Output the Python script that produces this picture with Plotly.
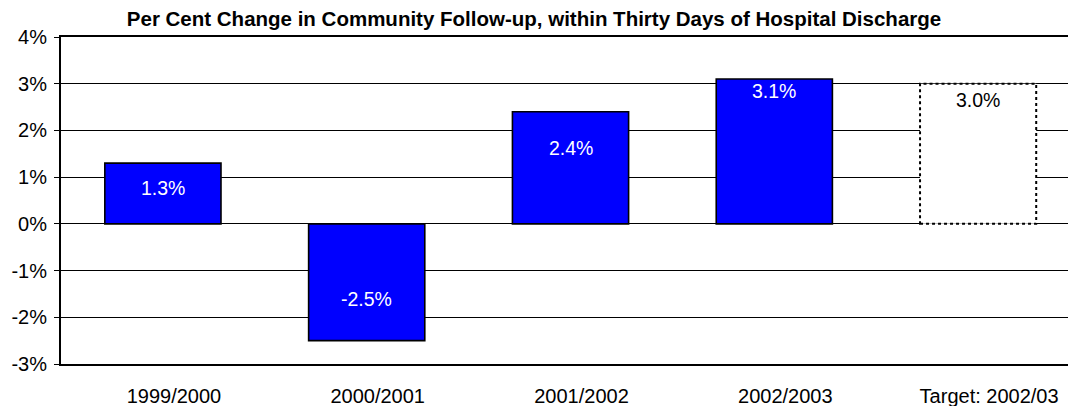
import plotly.graph_objects as go

# Per cent change in community follow-up within 30 days of discharge
categories = ["1999/2000", "2000/2001", "2001/2002", "2002/2003", "Target: 2002/03"]
values = [1.3, -2.5, 2.4, 3.1, 3.0]
is_target = [False, False, False, False, True]
y_ticks = [-3, -2, -1, 0, 1, 2, 3, 4]

# vertical pixel offsets of the value labels relative to each bar end
label_shift = [-25, 42, -36, -12, -16.5]

FONT = "Liberation Sans, Arial, sans-serif"
BAR_W = 0.57

fig = go.Figure()

fig.add_trace(go.Bar(
    x=categories,
    y=values,
    width=BAR_W,
    marker=dict(
        color=["#FFFFFF" if t else "#0000FF" for t in is_target],
        line=dict(color="#000000", width=[0 if t else 1.6 for t in is_target]),
    ),
    hoverinfo="skip",
))

# dotted outline for the target bar
for i, (v, t) in enumerate(zip(values, is_target)):
    if t:
        fig.add_shape(type="rect", xref="x", yref="y",
                      x0=i - BAR_W / 2, x1=i + BAR_W / 2, y0=0, y1=v,
                      line=dict(color="#000000", width=2, dash="dot"),
                      fillcolor="rgba(0,0,0,0)", layer="above")

for i, (cat, v, t, s) in enumerate(zip(categories, values, is_target, label_shift)):
    fig.add_annotation(x=cat, y=v, xref="x", yref="y", text=f"{v:.1f}%",
                       showarrow=False, yanchor="middle", yshift=s,
                       font=dict(family=FONT, size=19.5,
                                 color="#000000" if t else "#FFFFFF"))

fig.update_layout(
    width=1068, height=406,
    margin=dict(l=61, r=0, t=37, b=42),
    paper_bgcolor="#FFFFFF", plot_bgcolor="#FFFFFF",
    showlegend=False,
    bargap=0.43,
    title=dict(
        text="<b>Per Cent Change in Community Follow-up, within Thirty Days of Hospital Discharge</b>",
        font=dict(family=FONT, size=20.5, color="#000000"),
        x=0.5, xref="container", xanchor="center",
        y=1 - 19 / 406, yref="container", yanchor="middle",
    ),
    xaxis=dict(
        type="category",
        range=[-0.5, 4.441],
        showline=True, linecolor="#000000", linewidth=2, mirror=True,
        ticks="", showgrid=False,
        tickfont=dict(family=FONT, size=20, color="#000000"),
        ticklabelstandoff=13, ticklabelshift=11,
    ),
    yaxis=dict(
        range=[-3, 4],
        tickvals=y_ticks,
        ticktext=[f"{v}%" for v in y_ticks],
        showline=True, linecolor="#000000", linewidth=2,
        ticks="outside", ticklen=5, tickwidth=1, tickcolor="#000000",
        showgrid=True, gridcolor="#000000", gridwidth=1,
        zeroline=True, zerolinecolor="#000000", zerolinewidth=1,
        tickfont=dict(family=FONT, size=20, color="#000000"),
        ticklabelstandoff=3,
    ),
)

fig.write_html("out.html")
